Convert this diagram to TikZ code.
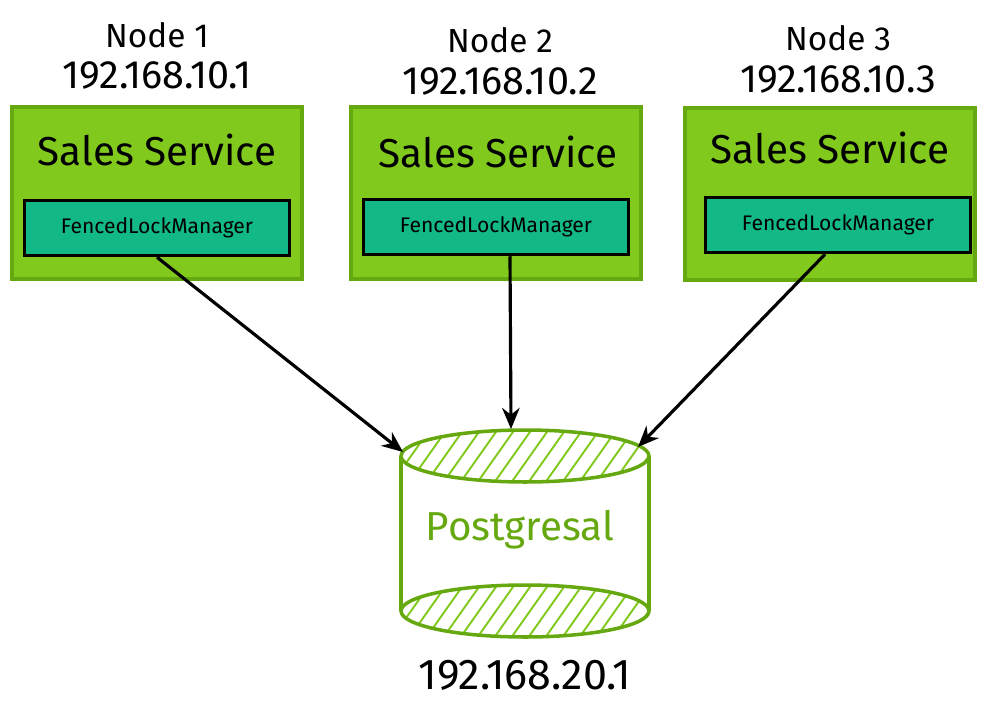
\documentclass[tikz,border=0pt]{standalone}
\usepackage{fontspec}
\setmainfont{Fira Sans}
\usepackage{tikz}
\usetikzlibrary{shapes,arrows.meta,positioning}
\usepackage{xcolor}

\definecolor{limefill}{HTML}{82C91E}
\definecolor{limeline}{HTML}{66A80F}
\definecolor{tealfill}{HTML}{12B886}

\tikzset{
    servicebox/.style={draw=limeline, line width=2pt, fill=limefill, minimum width=5.8cm, minimum height=3.45cm},
    lockbox/.style={draw=black, line width=2pt, fill=tealfill, minimum width=5.3cm, minimum height=1.1cm, font=\fontsize{12}{14}\selectfont},
    title/.style={font=\fontsize{23}{27}\selectfont},
    hostlabel/.style={font=\fontsize{19}{22}\selectfont},
    iplabel/.style={font=\fontsize{22.5}{26}\selectfont},
    flow/.style={-{Stealth[length=12pt,width=10pt]}, line width=1.8pt},
    hatch/.style={limefill, line width=1.1pt}
}

\begin{document}
\begin{tikzpicture}[x=0.02cm, y=-0.02cm]
    \useasboundingbox (0,0) rectangle (986,709);

    % hosts
    \node[hostlabel] (name1) at (157,35) {Node 1};
    \node[iplabel] (ip1) at (157,76) {192.168.10.1};
    \node[hostlabel] (name2) at (500,40) {Node 2};
    \node[iplabel] (ip2) at (500,82) {192.168.10.2};
    \node[hostlabel] (name3) at (838,38) {Node 3};
    \node[iplabel] (ip3) at (838,80) {192.168.10.3};

    \node[servicebox] (service1) at (157,193) {};
    \node[servicebox] (service2) at (496,193) {};
    \node[servicebox] (service3) at (830,194) {};

    \node[title] (title1) at (157,150) {Sales Service};
    \node[title] (title2) at (498,152) {Sales Service};
    \node[title] (title3) at (830,148) {Sales Service};

    \node[lockbox] (lock1) at (157,228) {FencedLockManager};
    \node[lockbox] (lock2) at (496,227) {FencedLockManager};
    \node[lockbox] (lock3) at (838,225) {FencedLockManager};

    % database
    \coordinate (dbtop) at (525,456);
    \coordinate (dbbottom) at (525,611);
    \begin{scope}
        \clip (dbtop) ellipse [x radius=2.48cm, y radius=0.52cm];
        \foreach \x in {370,387,...,660}
            \draw[hatch] (\x,490) -- ++(48,-68);
    \end{scope}
    \begin{scope}
        \clip (dbbottom) ellipse [x radius=2.48cm, y radius=0.52cm];
        \foreach \x in {370,387,...,660}
            \draw[hatch] (\x,645) -- ++(48,-68);
    \end{scope}
    \draw[limeline, line width=2pt] (dbtop) ellipse [x radius=2.48cm, y radius=0.52cm];
    \draw[limeline, line width=2pt] (dbbottom) ellipse [x radius=2.48cm, y radius=0.52cm];
    \draw[limeline, line width=2pt] (401,456) -- (401,611);
    \draw[limeline, line width=2pt] (649,456) -- (649,611);

    \node[title, text=limeline] (db) at (520,530) {Postgresal};
    \node[iplabel, font=\fontsize{24.5}{28}\selectfont] (dbip) at (525,675) {192.168.20.1};

    \coordinate (in1) at (403,452);
    \coordinate (in2) at (511,429);
    \coordinate (in3) at (638,447);

    \draw[flow] (lock1.south) -- (in1);
    \draw[flow] ([xshift=0.28cm]lock2.south) -- (in2);
    \draw[flow] ([xshift=-0.26cm]lock3.south) -- (in3);
\end{tikzpicture}
\end{document}
